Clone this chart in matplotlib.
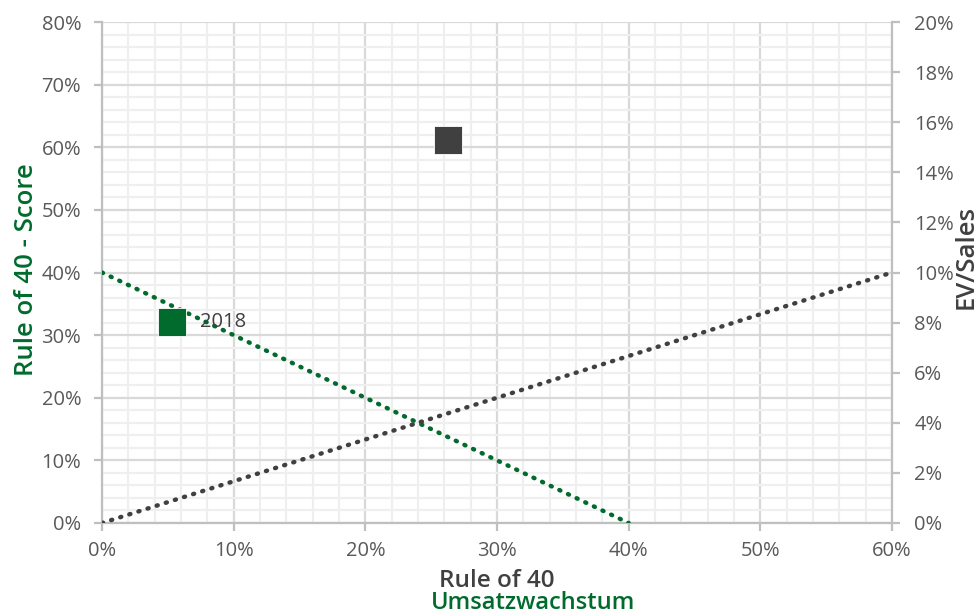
import matplotlib
matplotlib.use("Agg")
import matplotlib.pyplot as plt
from matplotlib.ticker import MultipleLocator, FuncFormatter

plt.rcParams['font.family'] = ['Open Sans', 'DejaVu Sans']

# Data
growth_pts = [5.3, 26.3]          # Umsatzwachstum (%)
score_pts = [32.1, 61.2]          # Rule of 40 score (%)
pt_colors = ['#006b2d', '#404040']
pt_labels = ['2018', '']
rule40_x = [0, 40]
rule40_y = [40, 0]
ev_x = [0, 60]
ev_y = [0, 10]                    # EV/Sales on right axis (%)

green = '#006b2d'
dark = '#404040'
tick_col = '#595959'

fig = plt.figure(figsize=(9.78, 6.16), dpi=100)
ax = fig.add_axes([102/978, 1-523/616, (892-102)/978, (523-22)/616])
ax2 = ax.twinx()

ax.set_xlim(0, 60)
ax.set_ylim(0, 80)
ax2.set_ylim(0, 20)

ax.xaxis.set_major_locator(MultipleLocator(10))
ax.xaxis.set_minor_locator(MultipleLocator(2))
ax.yaxis.set_major_locator(MultipleLocator(10))
ax.yaxis.set_minor_locator(MultipleLocator(2))
ax2.yaxis.set_major_locator(MultipleLocator(2))

ax.grid(which='major', color='#d9d9d9', lw=1.6)
ax.grid(which='minor', color='#efefef', lw=1.6)
ax.set_axisbelow(True)

pct = FuncFormatter(lambda v, p: f"{v:.0f}%")
ax.xaxis.set_major_formatter(pct)
ax.yaxis.set_major_formatter(pct)
ax2.yaxis.set_major_formatter(pct)

for a in (ax, ax2):
    for s in a.spines.values():
        s.set_visible(False)
ax.spines['left'].set_visible(True)
ax.spines['bottom'].set_visible(True)
ax2.spines['right'].set_visible(True)
for s in [ax.spines['left'], ax.spines['bottom'], ax2.spines['right']]:
    s.set_color('#bfbfbf')
    s.set_linewidth(1.6)

ax.tick_params(axis='y', which='major', length=6, color='#bfbfbf', width=1.6, labelsize=14.5, labelcolor=tick_col, pad=9)
ax.tick_params(axis='x', which='major', length=6, color='#bfbfbf', width=1.6, labelsize=14.5, labelcolor=tick_col, pad=7)
ax.tick_params(which='minor', length=0)
ax2.tick_params(which='major', length=6, color='#bfbfbf', width=1.6, labelsize=14.5, labelcolor=tick_col, pad=10)

# lines (round dots)
ax.plot(rule40_x, rule40_y, color=green, lw=3.2, ls=(0, (0.25, 1.9)), dash_capstyle='round', zorder=3)
ax2.plot(ev_x, ev_y, color=dark, lw=3.2, ls=(0, (0.25, 1.9)), dash_capstyle='round', zorder=3)

# points
for x, y, c, lab in zip(growth_pts, score_pts, pt_colors, pt_labels):
    ax.scatter([x], [y], marker='s', s=410, color=c, edgecolors='white', linewidths=0.6, zorder=5)
    if lab:
        ax.annotate(lab, (x, y), xytext=(20, 0), textcoords='offset points',
                    fontsize=14.5, color=dark, va='center', ha='left', zorder=6)

ax2.patch.set_visible(False)

fig.text(27/978, 1-270/616, 'Rule of 40 - Score', color=green, fontsize=18.5, fontweight='semibold',
         rotation=90, ha='center', va='center')
fig.text(966/978, 1-257/616, 'EV/Sales', color=dark, fontsize=18.5, fontweight='semibold',
         rotation=90, ha='center', va='center')

fig.text(497/978, 1-581/616, 'Rule of 40', color=dark, fontsize=17.5, fontweight='semibold', ha='center', va='center')
fig.text(533/978, 1-603/616, 'Umsatzwachstum', color=green, fontsize=17, fontweight='semibold', ha='center', va='center')

fig.savefig('out.png', dpi=100)
